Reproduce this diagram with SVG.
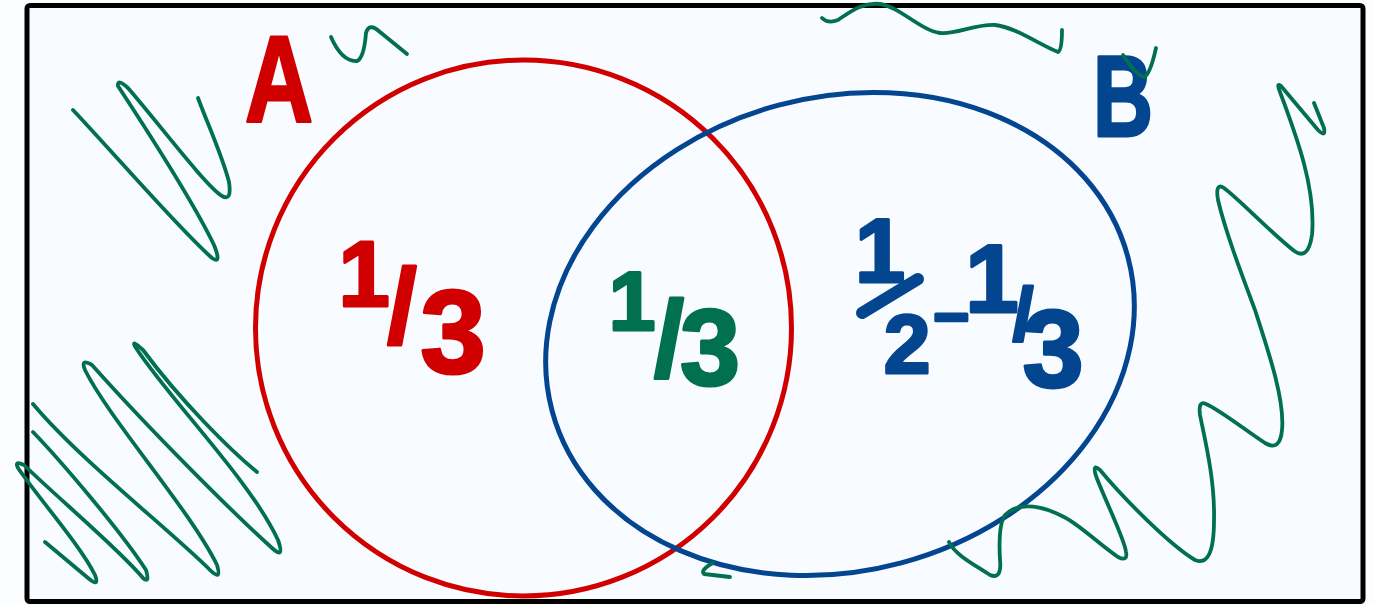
<svg xmlns="http://www.w3.org/2000/svg" width="1374" height="605" viewBox="0 0 1374 605">
  <style>
    .g { fill: none; stroke: #00704f; stroke-width: 3.8; stroke-linecap: round; stroke-linejoin: round; }
    .t { font-family: "Liberation Sans", Arial, sans-serif; font-weight: bold; stroke-width: 3; stroke-linejoin: round; text-anchor: middle; }
    .red { fill: #d10000; stroke: #d10000; }
    .blue { fill: #04458f; stroke: #04458f; }
    .green { fill: #00704f; stroke: #00704f; }
  </style>
  <rect x="0" y="0" width="1374" height="605" fill="#fcfdff"/>
  <rect id="frame" x="27" y="5.5" width="1336" height="596" rx="3" fill="#f8fbff" stroke="#000" stroke-width="5"/>

  <g id="set-A">
    <circle cx="523.5" cy="328" r="268" fill="none" stroke="#d10000" stroke-width="5"/>
    <text class="t red" x="279" y="122" font-size="122" textLength="68" lengthAdjust="spacingAndGlyphs">A</text>
  </g>
  <g id="set-B">
    <ellipse cx="840" cy="334" rx="298" ry="237" transform="rotate(-15 840 334)" fill="none" stroke="#04458f" stroke-width="5"/>
    <text class="t blue" x="1123" y="136" font-size="115" textLength="60" lengthAdjust="spacingAndGlyphs">B</text>
  </g>

  <g id="region-A-only">
    <text class="t red"><tspan x="364" y="306" font-size="92">1</tspan><tspan x="402" y="343" font-size="106">/</tspan><tspan x="453" y="373" font-size="118">3</tspan></text>
  </g>
  <g id="region-A-and-B">
    <text class="t green"><tspan x="632" y="330" font-size="84">1</tspan><tspan x="669" y="376" font-size="108">/</tspan><tspan x="710" y="385" font-size="108">3</tspan></text>
  </g>
  <g id="region-B-only">
    <text class="t blue"><tspan x="880" y="282" font-size="90">1</tspan><tspan x="907" y="373" font-size="84">2</tspan><tspan x="951" y="338" font-size="62">−</tspan><tspan x="992" y="312" font-size="96">1</tspan><tspan x="1023" y="340" font-size="74">/</tspan><tspan x="1053" y="387" font-size="110">3</tspan></text>
    <path d="M862,313 L918,279" fill="none" stroke="#04458f" stroke-width="12" stroke-linecap="round"/>
  </g>

  <g id="shading">
    <path class="g" d="M73,110 C120,160 180,230 212,258 Q222,265 214,245 C190,195 140,120 118,86 Q117,78 128,88 C160,125 205,185 222,196 Q232,202 229,182 C222,155 208,125 198,98"/>
    <path class="g" d="M331,37 Q342,62 357,61 Q364,58 366,33 Q369,22 380,32 L407,54"/>
    <path class="g" d="M45,542 L88,578 Q100,588 95,575 C80,545 40,500 18,468 Q14,460 24,465 C60,500 120,550 143,578 Q150,584 146,570 C120,530 60,460 33,432"/>
    <path class="g" d="M33,404 C80,460 170,530 210,570 Q222,582 217,565 C190,510 110,420 85,370 Q80,358 92,365 C150,430 230,510 272,548 Q285,560 278,540 C250,480 170,400 136,348 Q130,338 143,350 C180,400 230,450 257,472"/>
    <path class="g" d="M822,18 Q828,24 838,20 C850,12 862,2 880,4 C900,7 920,30 940,33 C955,35 975,24 995,25 C1015,27 1040,45 1058,52 Q1062,50 1062,30"/>
    <path class="g" d="M1123,55 Q1136,75 1144,77 Q1150,75 1156,48"/>
    <path class="g" d="M1314,103 L1324,128 Q1326,138 1318,130 L1281,86 Q1276,82 1280,92 C1298,140 1316,190 1312,235 Q1308,262 1293,250 C1268,230 1240,200 1224,188 Q1215,182 1218,200 C1225,230 1240,270 1255,310 C1268,350 1285,400 1282,430 Q1280,452 1265,443 C1245,430 1220,410 1206,404 Q1198,400 1200,415 C1205,440 1215,480 1214,520 Q1214,568 1195,560 C1170,545 1125,500 1100,470 Q1092,463 1096,476 C1105,500 1125,540 1126,552 Q1128,562 1118,557 C1100,545 1080,525 1064,517 C1045,507 1020,500 1005,515 Q998,525 1000,560 Q1002,580 990,575 C975,565 955,555 949,542"/>
    <path class="g" d="M713,563 Q700,570 704,574 L730,577"/>
  </g>
</svg>
